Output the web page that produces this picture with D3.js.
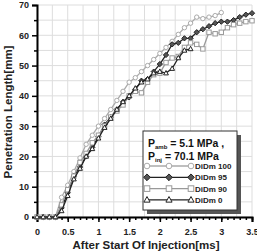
<!DOCTYPE html>
<html lang="en">
<head>
<meta charset="UTF-8">
<title>Penetration Length</title>
<style>
  body { margin: 0; background: #fff; }
  svg text { font-family: "Liberation Sans", Arial, sans-serif; font-weight: bold; }
</style>
</head>
<body>
<svg id="chart" width="257" height="252"></svg>
<script src="https://d3js.org/d3.v7.min.js"></script>
<script>
// time axis [ms]
var times = [0, 0.1, 0.2, 0.3, 0.4, 0.5, 0.6, 0.7, 0.8, 0.9, 1.0, 1.1, 1.2, 1.3, 1.4, 1.5, 1.6, 1.7,
             1.8, 1.9, 2.0, 2.1, 2.2, 2.3, 2.4, 2.5, 2.6, 2.7, 2.8, 2.9, 3.0, 3.1, 3.2, 3.3, 3.4, 3.5];

// penetration length [mm]
var didm100 = [0, 0, 0, 0, 6.5, 10.5, 15, 19.5, 24, 27, 30, 32.5, 35.5, 38.5, 41.5, 44.5, 46, 48,
               50, 52, 54, 56, 58, 60.3, 62.5, 64, 66, 65.5, 66, 66.5, 67.5];
var didm95 = [0, 0, 0, 0, 3, 8, 13.5, 16.5, 20, 23, 26.5, 30.5, 33, 35.5, 38, 39.5, 42, 45,
              45.5, 48, 50.5, 53.5, 57, 57.5, 59, 59, 61, 62, 63, 64, 64.5, 64.5, 65, 66, 66.8, 67.3];
var didm90 = [0, 0, 0, 0, 4, 9, 13.5, 18, 21, 24.5, 27, 30, 33, 35, 37, 40, 41.5, 41,
              44.5, 47, 47.5, 51, 52.5, 53, 56, 57.5, 57, 55.5, 61, 60.5, 61, 62.5, 63.5, 64, 64.5, 64.8];
var didm0 = [0, 0, 0, 0, 2, 7, 12.5, 16, 20, 22.5, 26, 29.5, 32.5, 35.5, 38, 40, 42.5, 44.5,
             45.5, 47.5, 48, 47.5, 49, 52.5, 55, 55.5];

var xTicks = [0, 0.5, 1, 1.5, 2, 2.5, 3, 3.5];
var yTicks = [0, 10, 20, 30, 40, 50, 60, 70];

var series = [
  { name: "DiDm 100", values: didm100, color: "#aaa", marker: "circle", fill: "#fff" },
  { name: "DiDm 95", values: didm95, color: "#222", marker: "diamond", fill: "#555" },
  { name: "DiDm 90", values: didm90, color: "#999", marker: "square", fill: "#fff" },
  { name: "DiDm 0", values: didm0, color: "#222", marker: "triangle", fill: "#fff" }
];

var svg = d3.select("#chart");
var x = d3.scaleLinear().domain([0, 3.5]).range([37, 252]);
var y = d3.scaleLinear().domain([0, 70]).range([217, 5]);

// grid
var grid = svg.append("g");
grid.selectAll("line.vx").data(d3.range(0, 3.51, 0.25)).enter().append("line")
  .attr("x1", d => x(d)).attr("x2", d => x(d)).attr("y1", y(0)).attr("y2", y(70))
  .attr("stroke", "#ddd").attr("stroke-width", 1);
grid.selectAll("line.hy").data(d3.range(0, 70.1, 5)).enter().append("line")
  .attr("x1", x(0)).attr("x2", x(3.5)).attr("y1", d => y(d)).attr("y2", d => y(d))
  .attr("stroke", "#ddd").attr("stroke-width", 1);

// axes
var xAxis = svg.append("g").attr("transform", "translate(0," + y(0) + ")")
  .call(d3.axisBottom(x).tickValues(xTicks).tickSize(5).tickFormat(d3.format("")));
svg.append("g").attr("transform", "translate(0," + y(0) + ")")
  .call(d3.axisBottom(x).tickValues(d3.range(0, 3.51, 0.1)).tickSize(3).tickFormat(""))
  .select(".domain").remove();
var yAxis = svg.append("g").attr("transform", "translate(" + x(0) + ",0)")
  .call(d3.axisLeft(y).tickValues(yTicks).tickSize(5));
svg.append("g").attr("transform", "translate(" + x(0) + ",0)")
  .call(d3.axisLeft(y).tickValues(d3.range(5, 70, 10)).tickSize(3).tickFormat(""))
  .select(".domain").remove();

svg.selectAll(".domain").attr("stroke", "#000").attr("stroke-width", 2);
svg.selectAll(".tick line").attr("stroke", "#000").attr("stroke-width", 1.5);
xAxis.selectAll("text").attr("font-size", 9).attr("dy", "1.1em").attr("fill", "#222");
yAxis.selectAll("text").attr("font-size", 9).attr("fill", "#222");

// markers
function drawMarker(g, kind, cx, cy, r, s) {
  var m;
  if (kind === "circle") {
    m = g.append("circle").attr("cx", cx).attr("cy", cy).attr("r", r);
  } else if (kind === "square") {
    m = g.append("rect").attr("x", cx - r).attr("y", cy - r).attr("width", 2 * r).attr("height", 2 * r);
  } else if (kind === "diamond") {
    m = g.append("path").attr("d", "M" + cx + "," + (cy - r * 1.2) + "L" + (cx + r * 1.2) + "," + cy +
      "L" + cx + "," + (cy + r * 1.2) + "L" + (cx - r * 1.2) + "," + cy + "Z");
  } else {
    m = g.append("path").attr("d", "M" + cx + "," + (cy - r * 1.2) + "L" + (cx + r * 1.1) + "," + (cy + r * 0.8) +
      "L" + (cx - r * 1.1) + "," + (cy + r * 0.8) + "Z");
  }
  m.attr("fill", s.fill).attr("stroke", s.color).attr("stroke-width", 1);
}

var line = d3.line().x((d, i) => x(times[i])).y(d => y(d));
series.forEach(function (s) {
  var g = svg.append("g");
  g.append("path").datum(s.values).attr("d", line)
    .attr("fill", "none").attr("stroke", s.color).attr("stroke-width", 1.3);
  s.values.forEach(function (v, i) {
    drawMarker(g, s.marker, x(times[i]), y(v), 2.2, s);
  });
});

// legend
var lg = svg.append("g");
lg.append("rect").attr("x", 147).attr("y", 135).attr("width", 94).attr("height", 79).attr("fill", "#555");
lg.append("rect").attr("x", 143).attr("y", 131).attr("width", 94).attr("height", 79)
  .attr("fill", "#fff").attr("stroke", "#333").attr("stroke-width", 1);

var t1 = lg.append("text").attr("x", 148).attr("y", 147).attr("font-size", 10.5).attr("fill", "#111");
t1.append("tspan").text("P");
t1.append("tspan").attr("font-size", 6).attr("dy", 2).text("amb");
t1.append("tspan").attr("dy", -2).text(" = 5.1 MPa ,");
var t2 = lg.append("text").attr("x", 148).attr("y", 160).attr("font-size", 10.5).attr("fill", "#111");
t2.append("tspan").text("P");
t2.append("tspan").attr("font-size", 6).attr("dy", 2).text("inj");
t2.append("tspan").attr("dy", -2).text(" = 70.1 MPa");

series.forEach(function (s, i) {
  var ly = 166 + i * 11.3;
  lg.append("line").attr("x1", 147).attr("x2", 191).attr("y1", ly).attr("y2", ly)
    .attr("stroke", s.color).attr("stroke-width", 1.3);
  [147, 169, 191].forEach(function (cx) { drawMarker(lg, s.marker, cx, ly, 2.8, s); });
  lg.append("text").attr("x", 195).attr("y", ly + 3).attr("font-size", 8).attr("fill", "#222").text(s.name);
});

// axis titles
svg.append("text").attr("x", 146).attr("y", 249).attr("text-anchor", "middle")
  .attr("font-size", 11.5).attr("fill", "#222").text("After Start Of Injection[ms]");
svg.append("text").attr("transform", "translate(12,112) rotate(-90)").attr("text-anchor", "middle")
  .attr("font-size", 11.5).attr("fill", "#222").text("Penetration Length[mm]");
</script>
</body>
</html>
